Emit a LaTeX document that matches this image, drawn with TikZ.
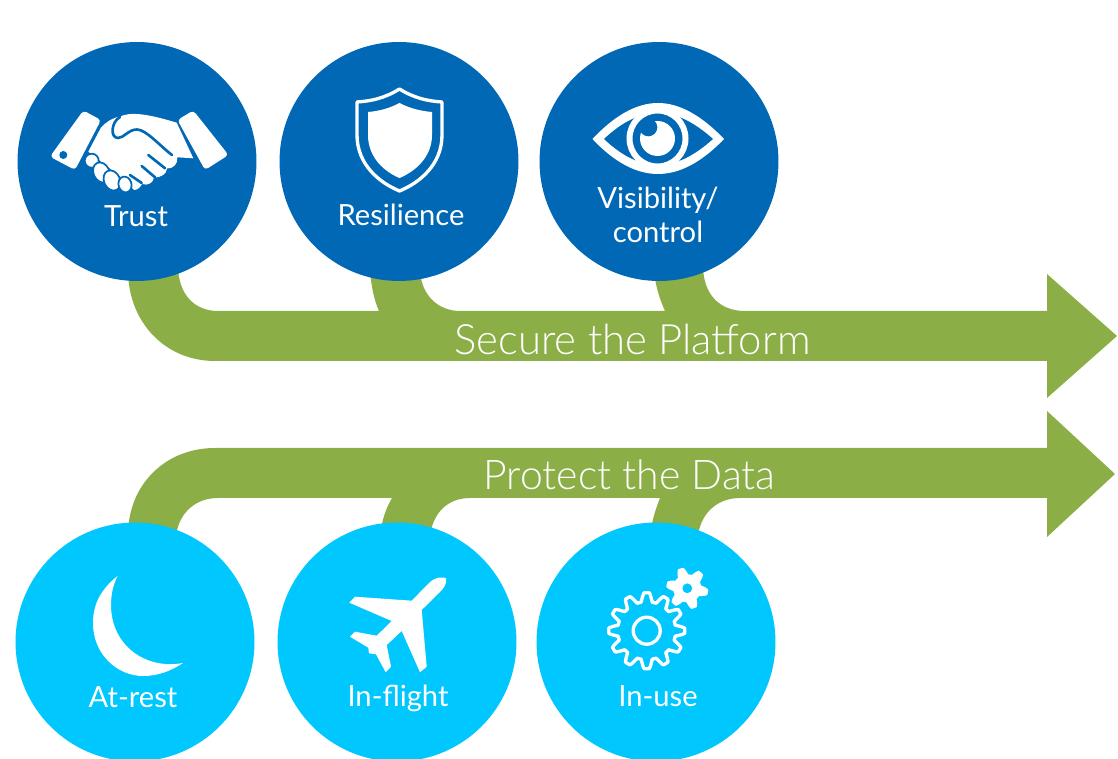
\documentclass[tikz,border=0pt]{standalone}
\usepackage{fontspec}
\setmainfont{Lato Light}
\newfontfamily\captionfont{Lato}
\definecolor{platformblue}{HTML}{0068B5}
\definecolor{datablue}{HTML}{00C7FD}
\definecolor{pathgreen}{HTML}{8CAE47}
\tikzset{
        topcircle/.style={circle, fill=platformblue, minimum size=4.78cm, inner sep=0pt},
        lowcircle/.style={circle, fill=datablue, minimum size=4.78cm, inner sep=0pt},
        caption/.style={text=white, font=\captionfont\fontsize{16.6pt}{19.3pt}\selectfont, align=center, inner sep=0pt, anchor=base},
        banner/.style={text=white, font=\fontsize{23.8pt}{29pt}\selectfont, inner sep=0pt},
        icon/.style={fill=white, draw=none},
        fingertip/.style={fill=white, draw=platformblue, line width=1pt},
        gapline/.style={platformblue, line width=1.5pt, line cap=round},
}
\begin{document}
\begin{tikzpicture}[x=0.02cm, y=-0.02cm]
        \useasboundingbox (0, 0) rectangle (1118, 759);

        % green arrows
        \fill[pathgreen] (128, 270) .. controls (128, 322) and (165, 361) .. (215, 361) -- (1047, 361) -- (1047, 398) -- (1117, 336) -- (1047, 274) -- (1047, 311) -- (745, 311)
                .. controls (720, 311) and (703, 295) .. (703, 265) -- (654, 270) .. controls (655, 285) and (660, 300) .. (665, 311) -- (460, 311)
                .. controls (438, 311) and (421, 295) .. (420, 270) -- (370, 270) .. controls (371, 285) and (374, 300) .. (379, 311) -- (218, 311)
                .. controls (195, 311) and (178, 295) .. (178, 265) -- cycle;
        \fill[pathgreen] (128, 535) .. controls (128, 485) and (165, 448) .. (215, 448) -- (1047, 448) -- (1047, 411) -- (1115, 474) -- (1047, 537) -- (1047, 498) -- (740, 498)
                .. controls (720, 498) and (702, 510) .. (698, 535) -- (650, 535) .. controls (652, 520) and (656, 508) .. (660, 498) -- (470, 498)
                .. controls (450, 498) and (434, 510) .. (430, 535) -- (380, 535) .. controls (382, 520) and (386, 508) .. (392, 498) -- (218, 498)
                .. controls (198, 498) and (180, 510) .. (176, 535) -- cycle;

        % circles
        \node[topcircle] (trust) at (137, 161.5) {};
        \node[topcircle] (resilience) at (399, 161.5) {};
        \node[topcircle] (visibility) at (659, 161.5) {};
        \node[lowcircle] (atrest) at (135, 642) {};
        \node[lowcircle] (inflight) at (397, 642) {};
        \node[lowcircle] (inuse) at (656, 642) {};

        % handshake
        \fill[icon, rounded corners=2pt] (83.3, 110.5) -- (101, 120) -- (75, 170) -- (50, 156.7) -- cycle;
        \fill[icon, rounded corners=2pt] (193.3, 110.5) -- (177.5, 120) -- (205, 170) -- (228.5, 155) -- cycle;
        \fill[platformblue] (63.3, 155) circle[radius=4];
        \fill[icon] (100.7, 128) .. controls (106, 122) and (112, 118) .. (120, 116.5) .. controls (130, 112) and (145, 113) .. (176.7, 122.7) -- (193.3, 158.3) -- (177.3, 157.3)
                .. controls (178, 164) and (173, 169) .. (167, 168.5) .. controls (167, 174) and (160, 178) .. (154, 177.5)
                .. controls (153, 183) and (148, 186) .. (142, 184) .. controls (140, 188) and (137, 190) .. (134, 190) -- (122, 178) -- (88.3, 151.7) -- cycle;
        \draw[gapline] (120, 117) .. controls (111, 122) and (110, 138) .. (118, 138) .. controls (124, 138) and (128, 129.5) .. (137, 129.5) .. controls (146, 129.5) and (160, 146) .. (172, 155);
        \draw[gapline] (148.3, 155) -- (165, 168.3);
        \draw[gapline] (141.7, 166) -- (155, 177.3);
        \draw[gapline] (130, 175) -- (141.7, 183);
        \draw[fingertip] (91.7, 160.7) circle[radius=7];
        \draw[fingertip] (101.5, 172.5) ellipse[x radius=8, y radius=10.5, rotate=25];
        \draw[fingertip] (112, 180.5) ellipse[x radius=8, y radius=10.5, rotate=25];
        \draw[fingertip] (125, 184.5) ellipse[x radius=6.5, y radius=8, rotate=15];

        % shield
        \draw[white, line width=1.9pt, line join=round] (399.5, 89) .. controls (385, 98) and (372, 101) .. (357, 102) -- (357, 135)
                .. controls (357, 165) and (380, 183) .. (399.5, 191) .. controls (419, 183) and (442, 165) .. (442, 135) -- (442, 102) .. controls (427, 101) and (414, 98) .. cycle;
        \fill[icon] (399.5, 103) .. controls (390, 108) and (380, 111) .. (368, 112) -- (368, 135)
                .. controls (368, 158) and (385, 172) .. (399.5, 178) .. controls (414, 172) and (432, 158) .. (432, 135) -- (432, 112) .. controls (420, 111) and (409, 108) .. cycle;

        % eye
        \fill[icon] (592.5, 139) .. controls (615, 115) and (637, 103) .. (658, 103) .. controls (679, 103) and (701, 115) .. (724, 139) .. controls (701, 163) and (679, 174) .. (658, 174) .. controls (637, 174) and (615, 163) .. cycle;
        \fill[platformblue] (604, 139) .. controls (622, 122) and (640, 113) .. (658, 113) .. controls (676, 113) and (694, 122) .. (713, 139) .. controls (694, 156) and (676, 165) .. (658, 165) .. controls (640, 165) and (622, 156) .. cycle;
        \draw[white, line width=3.4pt] (657.5, 138.5) circle[radius=28];
        \fill[icon] (657.5, 138.5) circle[radius=17.5];
        \fill[platformblue] (648.3, 127.3) circle[radius=9];

        % moon
        \fill[icon] (117.5, 576) .. controls (100, 590) and (93, 605) .. (93, 623) .. controls (93, 655) and (118, 676) .. (143, 676) .. controls (158, 676) and (171, 671) .. (183, 663)
                .. controls (145, 670) and (111, 645) .. (111, 605) .. controls (111, 595) and (113, 585) .. cycle;

        % plane
        \fill[icon] (411.7, 600.7) -- (430, 582) .. controls (436, 577) and (441, 577) .. (446, 578) .. controls (447, 584) and (444, 588) .. (440, 592) -- (421.7, 610) -- (426.7, 666.7) -- (420, 672.3) -- (401.7, 631) -- (386.7, 645) -- (391, 666.7) -- (385.7, 672.3)
                -- (376, 654.3) -- (369, 653.3) -- (368.3, 647.7) -- (350, 636.7) -- (355, 631.7) -- (376.7, 635.7) -- (391.7, 621) -- (349.3, 602.7) -- (355, 596.7) -- cycle;

        % gears
        \draw[white, line width=1.9pt, line join=round, smooth, variable=\t, domain=0:360, samples=360] plot ({646.7 + (33.5 + 4.5*max(min(1.5*cos(12*\t), 1), -1))*cos(\t)}, {630.7 + (33.5 + 4.5*max(min(1.5*cos(12*\t), 1), -1))*sin(\t)}) -- cycle;
        \draw[white, line width=1.9pt] (646.7, 630.7) circle[radius=13.5];
        \fill[icon, even odd rule, variable=\t, domain=0:360, samples=360] plot ({687.3 + (17.5 + 3.5*max(min(1.4*cos(6*(\t - 11)), 1), -1))*cos(\t)}, {588.3 + (17.5 + 3.5*max(min(1.4*cos(6*(\t - 11)), 1), -1))*sin(\t)}) -- cycle (687.3, 588.3) circle[radius=5];

        % captions
        \node[caption] (trustlabel) at (136, 227) {Trust};
        \node[caption] (resiliencelabel) at (401, 226) {Resilience};
        \node[caption, anchor=center] (visibilitylabel) at (658, 215) {Visibility/\\control};
        \node[caption] (atrestlabel) at (133, 707.5) {At-rest};
        \node[caption] (inflightlabel) at (398, 706.5) {In-flight};
        \node[caption] (inuselabel) at (658, 706) {In-use};
        \node[banner] (platformlabel) at (632.5, 339) {Secure the Platform};
        \node[banner, font=\fontsize{23.3pt}{29pt}\selectfont] (datalabel) at (629.5, 475) {Protect the Data};
\end{tikzpicture}
\end{document}
